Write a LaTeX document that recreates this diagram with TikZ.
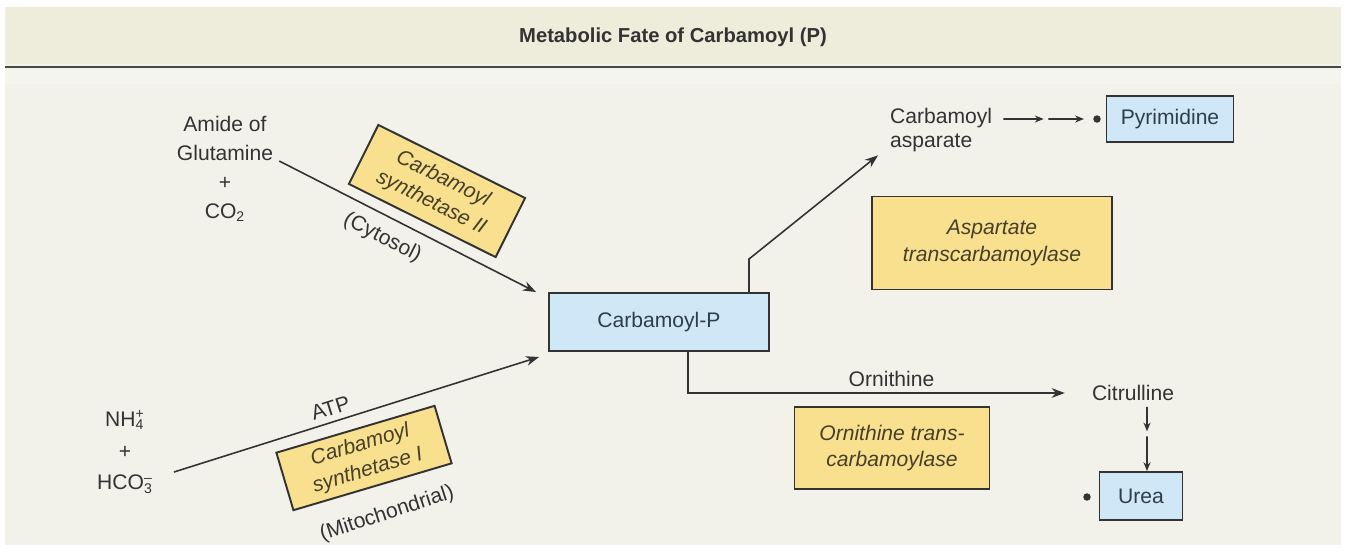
\documentclass[tikz,border=0pt]{standalone}
\usepackage{fontspec}
\setmainfont{Liberation Sans}
\usetikzlibrary{arrows.meta,calc}
\definecolor{panelbg}{HTML}{F2F2EB}
\definecolor{headbg}{HTML}{EEECDA}
\definecolor{headline}{HTML}{4A4A42}
\definecolor{enzfill}{HTML}{F8E08E}
\definecolor{prodfill}{HTML}{CFE7F6}
\definecolor{ink}{HTML}{333333}
\definecolor{boxink}{HTML}{2E3E4C}
\definecolor{enzink}{HTML}{473F2A}
\newcommand{\ionsfx}[2]{\rlap{\textsubscript{#1}}\textsuperscript{#2}}

\begin{document}
\begin{tikzpicture}[
    x=0.02cm, y=-0.02cm,
    every node/.style={font=\fontsize{12}{15}\selectfont, text=ink},
    enzyme/.style={draw=ink, line width=1.1pt, fill=enzfill, align=center,
        font=\fontsize{12}{15}\selectfont\itshape, text=enzink},
    product/.style={draw=ink, line width=1.1pt, fill=prodfill, text=boxink},
    metab/.style={align=center},
    dotmark/.style={circle, fill=ink, inner sep=1.5pt},
    flow/.style={->, line width=0.9pt, draw=ink},
    dashflow/.style={-{Stealth[length=5pt,width=4pt]}, line width=0.9pt, draw=ink},
    >={Stealth[length=7.5pt,width=5.5pt]}
]
% background and header
\fill[white] (0,0) rectangle (1346,550);
\fill[panelbg] (5,7) rectangle (1341,545);
\fill[headbg] (5,7) rectangle (1341,64);
\fill[white!25!panelbg] (5,70) rectangle (1341,84);
\draw[headline, line width=1.3pt] (5,67) -- (1341,67);
\node[font=\fontsize{11.5}{14}\selectfont\bfseries] (title) at (673,37) {Metabolic Fate of Carbamoyl (P)};

% substrates
\node[metab, font=\fontsize{12}{16.5}\selectfont] (glut) at (225,169) {Amide of\\Glutamine\\+\\CO\textsubscript{2}};
\node[metab, font=\fontsize{12}{18}\selectfont] (ammo) at (125,452) {NH\ionsfx{4}{+}\\+\\HCO\ionsfx{3}{–}};

% central product
\node[product, minimum width=4.4cm, minimum height=1.16cm] (cp) at (659,322) {Carbamoyl-P};

% enzymes
\node[enzyme, rotate=-26.5, minimum width=3.28cm, minimum height=1.32cm] (cps2) at (437,191) {Carbamoyl\\synthetase II};
\node[enzyme, rotate=16.5, minimum width=3.3cm, minimum height=1.2cm] (cps1) at (364,458) {Carbamoyl\\synthetase I};
\node[enzyme, minimum width=4.8cm, minimum height=1.86cm] (atc) at (992,243) {Aspartate\\transcarbamoylase};
\node[enzyme, minimum width=3.9cm, minimum height=1.64cm] (otc) at (892,448) {Ornithine trans-\\carbamoylase};
\node[rotate=18] (mito) at (387,514) {(Mitochondrial)};

% products
\node[align=left, anchor=west, font=\fontsize{12}{14}\selectfont] (casp) at (884,130) {Carbamoyl\\asparate};
\node[dotmark] (pdot) at (1097,119) {};
\node[product, minimum width=2.54cm, minimum height=0.92cm] (pyr) at (1170,119) {Pyrimidine};
\node (cit) at (1133,393) {Citrulline};
\node[product, minimum width=1.66cm, minimum height=0.96cm] (urea) at (1141,496) {Urea};
\node[dotmark] (udot) at (1087,497) {};

% arrows into carbamoyl-P
\draw[flow] ([yshift=0.16cm]glut.east) -- ([xshift=-0.24cm]cp.north west)
    node[pos=0.44, below=3pt, sloped] (cyto) {(Cytosol)};
\draw[flow] ([xshift=0.3cm,yshift=-0.4cm]ammo.east) -- ([xshift=-0.18cm,yshift=-0.1cm]cp.south west)
    node[pos=0.44, above, sloped] (atp) {ATP};

% arrows out of carbamoyl-P
\draw[flow] ([xshift=1.8cm]cp.north) -- ++(0,-33) -- ([xshift=-0.12cm,yshift=0.06cm]casp.south west);
\draw[flow] ([xshift=0.58cm]cp.south) |- ([xshift=-0.42cm]cit.west)
    node[pos=0.77, above] (orn) {Ornithine};

% dashed steps
\coordinate (pstart) at ([xshift=0.1cm,yshift=0.22cm]casp.east);
\coordinate (pend) at ([xshift=-0.18cm]pdot.west);
\draw[dashflow] (pstart) -- ($(pstart)!0.5!(pend)$);
\draw[dashflow] ($(pstart)!0.56!(pend)$) -- (pend);
\coordinate (ustart) at ([xshift=0.12cm]urea.north |- cit.south);
\coordinate (uend) at ([xshift=0.12cm]urea.north);
\draw[dashflow] (ustart) -- ($(ustart)!0.38!(uend)$);
\draw[dashflow] ($(ustart)!0.46!(uend)$) -- (uend);
\end{tikzpicture}
\end{document}
